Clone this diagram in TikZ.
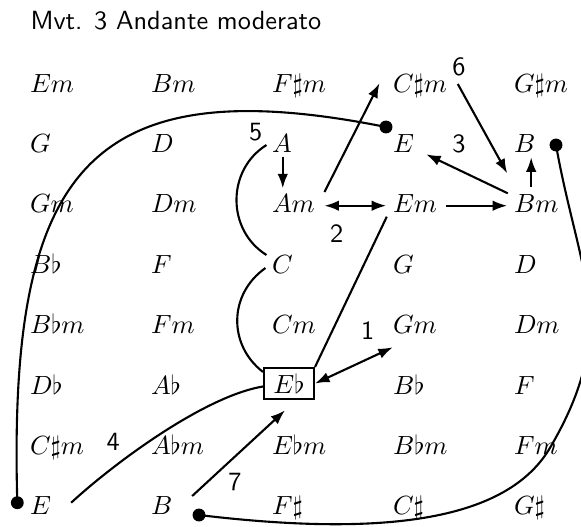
\documentclass[tikz,border=0pt]{standalone}
\usetikzlibrary{arrows.meta,calc}
\begin{document}
\begin{tikzpicture}[x=0.3802pt,y=-0.3802pt,
  chord/.style={anchor=text,inner sep=0pt},
  conn/.style={line width=0.8pt},
  arr/.style={conn,-{Latex[length=5.5pt,width=4pt]}},
  darr/.style={conn,{Latex[length=5.5pt,width=4pt]}-{Latex[length=5.5pt,width=4pt]}},
  dot/.style={circle,fill=black,inner sep=0pt,minimum size=4.9pt},
  lab/.style={font=\sffamily,inner sep=0pt,anchor=center}]
\useasboundingbox (0,0) rectangle (581,526);
\clip (0,0) rectangle (581,526);
\node[anchor=base west,font=\sffamily,inner sep=0pt] (title) at (30,29) {Mvt. 3 Andante moderato};
% grid of chords
\node[chord] (n11) at (30,92) {$Em$};
\node[chord] (n12) at (151,92) {$Bm$};
\node[chord] (n13) at (272,92) {$F\sharp m$};
\node[chord] (n14) at (393,92) {$C\sharp m$};
\node[chord] (n15) at (514,92) {$G\sharp m$};
\node[chord] (n21) at (30,152.4) {$G$};
\node[chord] (n22) at (151,152.4) {$D$};
\node[chord] (n23) at (272,152.4) {$A$};
\node[chord] (n24) at (393,152.4) {$E$};
\node[chord] (n25) at (514,152.4) {$B$};
\node[chord] (n31) at (30,212.8) {$Gm$};
\node[chord] (n32) at (151,212.8) {$Dm$};
\node[chord] (n33) at (272,212.8) {$Am$};
\node[chord] (n34) at (393,212.8) {$Em$};
\node[chord] (n35) at (514,212.8) {$Bm$};
\node[chord] (n41) at (30,273.2) {$B\flat$};
\node[chord] (n42) at (151,273.2) {$F$};
\node[chord] (n43) at (272,273.2) {$C$};
\node[chord] (n44) at (393,273.2) {$G$};
\node[chord] (n45) at (514,273.2) {$D$};
\node[chord] (n51) at (30,333.6) {$B\flat m$};
\node[chord] (n52) at (151,333.6) {$Fm$};
\node[chord] (n53) at (272,333.6) {$Cm$};
\node[chord] (n54) at (393,333.6) {$Gm$};
\node[chord] (n55) at (514,333.6) {$Dm$};
\node[chord] (n61) at (30,394) {$D\flat$};
\node[chord] (n62) at (151,394) {$A\flat$};
\node[draw,line width=0.8pt,inner sep=0pt,minimum width=19pt,minimum height=11.8pt] (n63) at (289,383.5) {$E\flat$};
\node[chord] (n64) at (393,394) {$B\flat$};
\node[chord] (n65) at (514,394) {$F$};
\node[chord] (n71) at (30,454.4) {$C\sharp m$};
\node[chord] (n72) at (151,454.4) {$A\flat m$};
\node[chord] (n73) at (272,454.4) {$E\flat m$};
\node[chord] (n74) at (393,454.4) {$B\flat m$};
\node[chord] (n75) at (514,454.4) {$Fm$};
\node[chord] (n81) at (30,514.8) {$E$};
\node[chord] (n82) at (151,514.8) {$B$};
\node[chord] (n83) at (272,514.8) {$F\sharp$};
\node[chord] (n84) at (393,514.8) {$C\sharp$};
\node[chord] (n85) at (514,514.8) {$G\sharp$};
% dots
\node[dot] (d1) at (386,127) {};
\node[dot] (d2) at (17.3,502.7) {};
\node[dot] (d3) at (556,145) {};
\node[dot] (d4) at (199,515) {};
\coordinate (m1) at ($(n75.base west)+(37,-7.4)$);
% labels
\node[lab] (l1) at (367.7,331) {1};
\node[lab] (l2) at (336.7,234) {2};
\node[lab] (l3) at (459,144) {3};
\node[lab] (l4) at (113.3,441.7) {4};
\node[lab] (l5) at (255.7,132.3) {5};
\node[lab] (l6) at (459,66.7) {6};
\node[lab] (l7) at (235,481.7) {7};
% connectors
\draw[arr] ($(n33.base west)+(53,-20.8)$) -- ($(n14.base west)+(-13,-8.7)$);
\draw[arr] ($(n14.base west)+(65.3,-8)$) -- ($(n35.base west)+(-6.3,-39.5)$);
\draw[arr] ($(n35.base west)+(-5.7,-19.5)$) -- ($(n24.base west)+(33.7,1.9)$);
\draw[arr] ($(n35.base west)+(17.7,-26.1)$) -- ($(n25.base west)+(17.7,4.9)$);
\draw[darr] ($(n33.base west)+(53,-7.1)$) -- ($(n34.base west)+(-6.3,-7.1)$);
\draw[arr] ($(n34.base west)+(53.7,-7.1)$) -- ($(n35.base west)+(-6.3,-7.1)$);
\draw[arr] ($(n23.base west)+(11.3,4.3)$) -- ($(n33.base west)+(11.3,-24.5)$);
\draw[conn] ($(n23.base west)+(-5,-7.4)$) .. controls +(-40,25) and +(-40,-25) .. ($(n43.base west)+(-5,-18.2)$);
\draw[conn] ($(n43.base west)+(-6,-5.2)$) .. controls +(-37,26) and +(-35,-27) .. ($(n63.north west)+(0,5)$);
\draw[conn] ($(n34.base west)+(-5.7,3.9)$) -- (n63.north east);
\draw[darr] (n63.east) -- ($(n54.base west)+(0.3,13.7)$);
\draw[conn] ($(n81.base west)+(41.7,-12.1)$) .. controls +(40,-37) and +(-60,10) .. ($(n63.west)+(0,3)$);
\draw[arr] ($(n82.base west)+(41.7,-18.8)$) -- ($(n63.south)+(-4,10.3)$);
\draw[conn] (d1.center) .. controls +(-300,-60) and +(-9.3,-329.7) .. (d2.center);
\draw[conn] (d3.center) .. controls +(23,130) and +(70,-120) .. (m1)
  .. controls +(-40,69) and +(200,24) .. (d4.center);
\end{tikzpicture}
\end{document}
